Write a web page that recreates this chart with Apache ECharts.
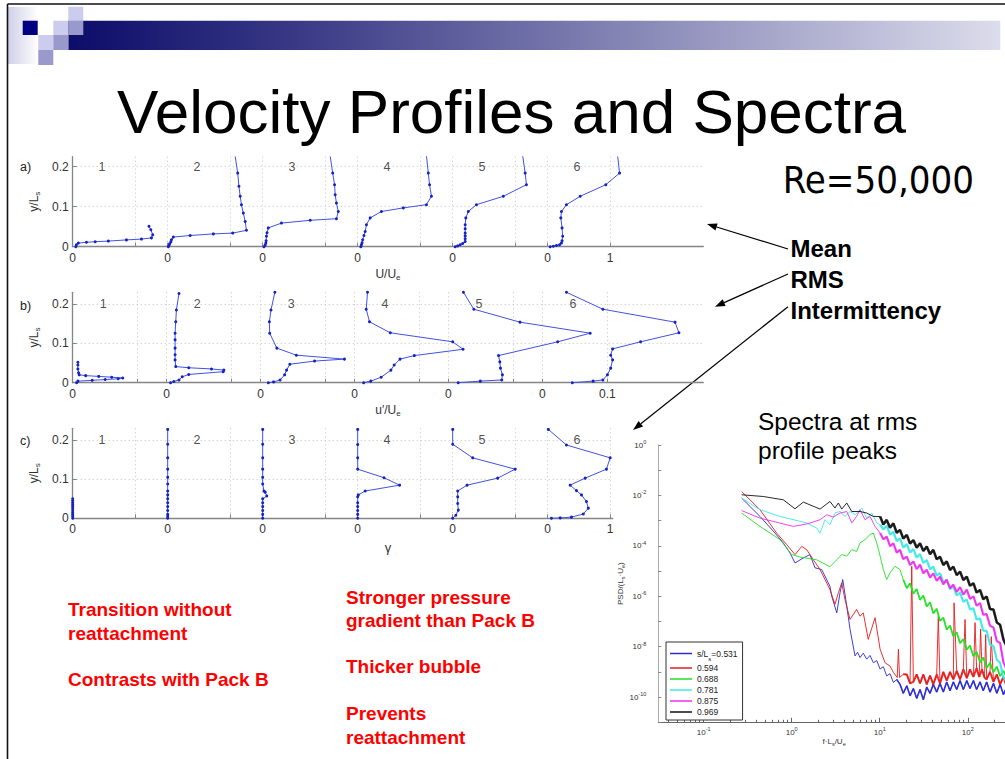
<!DOCTYPE html>
<html><head><meta charset="utf-8">
<script src="https://cdn.jsdelivr.net/npm/echarts@6/dist/echarts.min.js"></script>
<style>html,body{margin:0;padding:0;background:#fff}#c{width:1005px;height:759px}</style>
</head><body><div id="c"></div>
<script>
// ---------------- DATA ----------------
const profileNames = ['1','2','3','4','5','6'];
const yTickValues = [0, 0.1, 0.2];
const meanTickLabels = ['0','1'];
const rmsTickLabels = ['0','0.1'];
const gammaTickLabels = ['0','1'];

// Mean U/Ue profiles: [U/Ue, y/Ls]
const meanProfile1 = [[0.05,0],[0.06,0.005],[0.09,0.009],[0.22,0.011],[0.36,0.0125],[0.57,0.014],[0.86,0.017],[1.10,0.019],[1.26,0.022],[1.28,0.03],[1.25,0.0425],[1.22,0.051]];
const meanProfile2 = [[0.01,0],[0.02,0.003],[0.03,0.007],[0.05,0.012],[0.06,0.0175],[0.09,0.024],[0.36,0.028],[0.73,0.032],[1.04,0.034],[1.26,0.041],[1.24,0.063],[1.21,0.084],[1.18,0.105],[1.16,0.126],[1.14,0.151],[1.12,0.184],[1.08,0.226]];
const meanProfile3 = [[0.02,0],[0.04,0.004],[0.05,0.009],[0.055,0.015],[0.06,0.026],[0.07,0.035],[0.09,0.047],[0.30,0.059],[0.76,0.066],[1.18,0.07],[1.21,0.088],[1.18,0.109],[1.16,0.13],[1.15,0.155],[1.12,0.184],[1.08,0.226]];
const meanProfile4 = [[0.05,0],[0.06,0.005],[0.07,0.01],[0.08,0.0175],[0.10,0.028],[0.12,0.038],[0.14,0.055],[0.20,0.072],[0.38,0.088],[0.73,0.097],[1.10,0.105],[1.18,0.126],[1.15,0.155],[1.13,0.184],[1.10,0.2275]];
const meanProfile5 = [[0.04,0],[0.08,0.002],[0.12,0.005],[0.16,0.008],[0.20,0.013],[0.20,0.02],[0.20,0.027],[0.20,0.034],[0.20,0.045],[0.20,0.055],[0.21,0.072],[0.25,0.088],[0.38,0.105],[0.81,0.126],[1.18,0.155],[1.16,0.184],[1.12,0.2275]];
const meanProfile6 = [[0.04,0],[0.09,0.001],[0.14,0.003],[0.19,0.005],[0.22,0.009],[0.23,0.015],[0.24,0.026],[0.23,0.047],[0.21,0.072],[0.22,0.088],[0.30,0.105],[0.52,0.126],[0.93,0.155],[1.15,0.184],[1.12,0.226]];

// RMS u'/Ue profiles: [u'/Ue, y/Ls]
const rmsProfile1 = [[0.006,0],[0.008,0.004],[0.03,0.006],[0.05,0.008],[0.07,0.010],[0.077,0.012],[0.06,0.014],[0.04,0.016],[0.02,0.018],[0.01,0.020],[0.009,0.025],[0.008,0.035],[0.008,0.045],[0.008,0.052]];
const rmsProfile2 = [[0.006,0],[0.011,0.003],[0.019,0.007],[0.024,0.015],[0.034,0.021],[0.087,0.028],[0.088,0.032],[0.069,0.035],[0.034,0.038],[0.014,0.041],[0.013,0.058],[0.013,0.071],[0.013,0.088],[0.013,0.109],[0.013,0.126],[0.014,0.155],[0.015,0.185],[0.019,0.227]];
const rmsProfile3 = [[0.012,0],[0.020,0.002],[0.030,0.007],[0.037,0.02],[0.040,0.032],[0.045,0.047],[0.083,0.055],[0.129,0.06],[0.055,0.070],[0.025,0.088],[0.014,0.126],[0.0135,0.155],[0.016,0.185],[0.022,0.23]];
const rmsProfile4 = [[0.014,0],[0.025,0.004],[0.041,0.014],[0.056,0.032],[0.061,0.045],[0.070,0.060],[0.092,0.069],[0.167,0.085],[0.151,0.104],[0.055,0.127],[0.023,0.155],[0.018,0.187],[0.020,0.23]];
const rmsProfile5 = [[0.015,0],[0.049,0.004],[0.082,0.007],[0.083,0.02],[0.080,0.037],[0.079,0.053],[0.077,0.069],[0.168,0.104],[0.218,0.126],[0.110,0.154],[0.039,0.187],[0.023,0.23]];
const rmsProfile6 = [[0.046,0],[0.078,0.004],[0.093,0.007],[0.100,0.02],[0.105,0.037],[0.108,0.058],[0.105,0.07],[0.108,0.086],[0.151,0.104],[0.210,0.127],[0.204,0.154],[0.093,0.187],[0.037,0.23]];

// Intermittency gamma profiles: [gamma, y/Ls]
const gammaProfile1 = [[0,0],[0,0.005],[0,0.01],[0,0.015],[0,0.02],[0,0.025],[0,0.03],[0,0.035],[0,0.04],[0,0.045],[0,0.05]];
const gammaProfile2 = [[0,0],[0,0.005],[0,0.01],[0,0.02],[0,0.03],[0,0.04],[0,0.05],[0,0.06],[0,0.07],[0,0.088],[0,0.105],[0,0.126],[0,0.155],[0,0.19],[0,0.228]];
const gammaProfile3 = [[0,0],[0,0.01],[0,0.02],[0,0.03],[0,0.04],[0,0.05],[0.065,0.057],[0.04,0.067],[0.02,0.07],[0,0.088],[0,0.105],[0,0.126],[0,0.155],[0,0.19],[0,0.228]];
const gammaProfile4 = [[0,0],[0,0.01],[0,0.02],[0,0.03],[0,0.04],[0,0.055],[0.01,0.06],[0.12,0.07],[0.67,0.085],[0.42,0.104],[0,0.126],[0,0.155],[0,0.189],[0,0.228]];
const gammaProfile5 = [[0,0],[0.05,0.008],[0.09,0.021],[0.08,0.038],[0.08,0.055],[0.08,0.07],[0.23,0.085],[0.72,0.103],[1.0,0.126],[0.32,0.155],[0,0.19],[0,0.228]];
const gammaProfile6 = [[0.06,0],[0.2,0.001],[0.38,0.003],[0.57,0.011],[0.65,0.026],[0.62,0.043],[0.54,0.06],[0.46,0.071],[0.36,0.085],[0.60,0.103],[0.94,0.126],[1.0,0.155],[0.30,0.188],[0.01,0.228]];

// Spectra: [f*Ls/Ue, PSD/(Ls*Ue)]
const spectraNames = ['0.531','0.594','0.688','0.781','0.875','0.969'];
const spec0531 = [[0.27,7.8e-3],[0.436,1.47e-3],[0.646,3.2e-4],[0.803,1.3e-4],[0.957,5.2e-5],[1.09,2.1e-5],[1.355,3.3e-5],[1.61,4.5e-5],[1.84,1.34e-5],[2.19,1.15e-5],[2.72,2.5e-6],[2.85,1.0e-6],[3.25,2.2e-7],[3.54,1.38e-6],[3.8,4.6e-6],[4.22,4.1e-7],[4.6,4.9e-8],[5.24,4.3e-9],[5.6,6e-9],[5.97,3.7e-9],[6.5,5.5e-9],[7.11,3.2e-9],[7.76,4.5e-9],[8.46,2.3e-9],[9.25,2.8e-9],[10.1,1.3e-9],[11.0,1.6e-9],[12.0,6.9e-10],[13.1,8.5e-10],[14.3,3.8e-10],[15.6,5e-10],[17.0,3.2e-10],[18.5,1.41e-10],[20.3,2.8e-10],[22.1,1.12e-10],[24.1,2.2e-10],[26.3,8.9e-11],[28.7,2.0e-10],[31.3,7.9e-11],[34.2,2.5e-10],[37.3,1.41e-10],[40.6,3.2e-10],[44.4,1.58e-10],[48.4,3.5e-10],[52.8,1.58e-10],[57.7,4e-10],[62.9,1.78e-10],[68.6,4e-10],[74.9,2.0e-10],[81.8,4.5e-10],[89.1,2.0e-10],[97.5,4.5e-10],[106,2.2e-10],[116,4.5e-10],[126,2.0e-10],[138,4e-10],[150,1.78e-10],[164,4e-10],[179,1.58e-10],[196,3.5e-10],[214,1.41e-10],[233,3.2e-10],[254,1.26e-10],[277,2.5e-10]];
const spec0594 = [[0.27,1.42e-2],[0.436,2.7e-3],[0.675,3.2e-4],[0.877,1.12e-4],[1.09,4.5e-5],[1.30,9.5e-5],[1.48,7.1e-5],[1.76,2.8e-5],[2.10,1.15e-5],[2.39,4.6e-6],[2.72,1.86e-6],[3.10,4.8e-7],[3.39,1.38e-6],[3.70,3.4e-6],[4.03,7.4e-7],[4.6,1.2e-7],[5.47,3.0e-7],[5.97,1.62e-7],[6.5,2.2e-7],[7.4,1.95e-8],[8.85,1.41e-7],[10.1,7.9e-9],[11.5,2.3e-9],[13.1,1.7e-9],[14.3,9.5e-10],[15.8,6e-10],[16.3,7.9e-9],[16.8,6e-10],[18.5,8e-10],[20.3,7.9e-10],[22.1,3.5e-10],[23.1,1.55e-5],[24.1,4e-10],[26.3,7.9e-10],[28.7,3.5e-10],[31.3,7.9e-10],[34.2,3.2e-10],[37.3,7.1e-10],[40.6,3.2e-10],[44.4,7.9e-10],[46.3,1.6e-7],[48.4,3.5e-10],[52.8,1.0e-9],[57.7,4.5e-10],[62.9,1.0e-9],[68.6,5e-10],[69.9,5.5e-7],[74.9,1.1e-9],[81.8,5e-10],[89.1,1.26e-9],[93.2,1.2e-7],[97.5,5.6e-10],[106,1.26e-9],[116,6.3e-10],[121,9e-8],[126,1.41e-9],[135,6.3e-10],[140,5e-8],[145,1.26e-9],[155,6e-10],[160,3e-8],[164,5e-10],[179,1.0e-9],[185,2.5e-8],[196,4e-10],[214,7.9e-10],[233,3.2e-10],[254,6.3e-10],[277,2.5e-10]];
const spec0688 = [[0.27,2.0e-3],[0.436,5.9e-4],[0.736,1.77e-4],[1.0,4.5e-5],[1.24,3.6e-5],[1.92,2.8e-5],[2.72,1.48e-5],[3.25,2.8e-5],[3.7,4.5e-5],[4.22,3.9e-5],[4.81,7.1e-5],[5.47,6.0e-5],[5.97,1.3e-4],[6.8,1.77e-4],[7.76,2.8e-4],[8.46,3.2e-4],[9.25,1.3e-4],[10.1,3.9e-5],[11.0,1.15e-5],[12.0,4.6e-6],[13.1,8.5e-6],[14.9,1.55e-5],[17.0,1.15e-5],[18.5,4.6e-6],[20.3,2.1e-6],[22.1,3.3e-6],[24.1,1.26e-6],[26.3,1.95e-6],[28.7,7.2e-7],[31.3,1.07e-6],[34.2,3.9e-7],[37.3,5.8e-7],[40.6,2.1e-7],[44.4,3.2e-7],[48.4,1.05e-7],[52.8,1.41e-7],[57.7,4.7e-8],[62.9,6.9e-8],[68.6,2.6e-8],[74.9,3.7e-8],[81.8,1.38e-8],[89.1,2.0e-8],[97.5,7.6e-9],[106,1.12e-8],[116,4.2e-9],[126,6.3e-9],[138,2.4e-9],[150,3.7e-9],[164,1.41e-9],[179,2.3e-9],[196,9.8e-10],[214,1.62e-9],[233,6.8e-10],[254,1.1e-9],[277,6.3e-10]];
const spec0781 = [[0.27,7.8e-3],[0.436,2.7e-3],[0.736,1.47e-3],[1.48,8.1e-4],[1.92,5.1e-4],[2.10,3.2e-4],[2.39,1.09e-3],[2.72,6.9e-4],[3.10,2.0e-3],[3.54,2.3e-3],[4.03,1.47e-3],[4.6,2.3e-3],[5.24,1.7e-3],[6.24,3.16e-3],[7.11,1.26e-3],[8.11,2.0e-3],[9.25,8.1e-4],[10.1,6.9e-4],[11.0,4.5e-4],[12.0,6.2e-4],[13.1,2.8e-4],[14.3,3.6e-4],[15.6,1.55e-4],[17.0,2.0e-4],[18.5,8.5e-5],[20.3,1.17e-4],[22.1,5.4e-5],[24.1,7.4e-5],[26.3,3.4e-5],[28.7,4.7e-5],[31.3,2.1e-5],[34.2,2.75e-5],[37.3,1.17e-5],[40.6,1.51e-5],[44.4,6.5e-6],[48.4,8.3e-6],[52.8,3.5e-6],[57.7,4.5e-6],[62.9,1.9e-6],[68.6,2.5e-6],[74.9,1.07e-6],[81.8,1.38e-6],[89.1,6.0e-7],[97.5,7.4e-7],[106,3.0e-7],[116,3.3e-7],[126,1.2e-7],[138,1.32e-7],[150,4.3e-8],[164,4.2e-8],[179,1.2e-8],[196,1.05e-8],[214,3.0e-9],[233,2.3e-9],[254,6.0e-10],[277,4.0e-10]];
const spec0875 = [[0.27,2.5e-3],[0.436,1.26e-3],[0.618,9.3e-4],[1.04,5.9e-4],[1.54,7.6e-4],[2.10,1.09e-3],[2.50,1.7e-3],[2.97,1.38e-3],[3.54,2.0e-3],[4.22,2.3e-3],[4.81,8.1e-4],[5.47,1.47e-3],[5.97,2.7e-3],[6.8,1.09e-3],[7.76,1.47e-3],[8.85,5.9e-4],[10.1,3.2e-4],[11.0,1.82e-4],[12.0,2.34e-4],[13.1,9.8e-5],[14.3,1.26e-4],[15.6,5.4e-5],[17.0,6.9e-5],[18.5,2.95e-5],[20.3,3.7e-5],[22.1,1.74e-5],[24.1,2.4e-5],[26.3,1.2e-5],[28.7,1.78e-5],[31.3,8.1e-6],[34.2,1.12e-5],[37.3,5.5e-6],[40.6,8.1e-6],[44.4,4.1e-6],[48.4,6.0e-6],[52.8,3.0e-6],[57.7,4.5e-6],[62.9,2.1e-6],[68.6,2.9e-6],[74.9,1.48e-6],[81.8,2.3e-6],[89.1,1.17e-6],[97.5,1.82e-6],[106,7.8e-7],[116,1.0e-6],[126,4.2e-7],[138,5.4e-7],[150,1.86e-7],[164,1.95e-7],[179,6.8e-8],[196,5.8e-8],[214,1.66e-8],[233,1.41e-8],[254,2.4e-9],[277,1.26e-9]];
const spec0969 = [[0.27,1.06e-2],[0.475,9.06e-3],[0.803,6.7e-3],[1.09,2.95e-3],[1.355,5.43e-3],[2.10,2.87e-3],[2.72,5.75e-3],[3.10,3.16e-3],[3.39,5.0e-3],[3.70,2.87e-3],[4.22,5.0e-3],[4.81,2.3e-3],[5.97,2.3e-3],[7.11,2.0e-3],[8.46,1.47e-3],[10.1,1.45e-3],[11.0,7.1e-4],[12.0,1.07e-3],[13.1,5.2e-4],[14.3,7.8e-4],[15.6,3.3e-4],[17.0,4.3e-4],[18.5,1.95e-4],[20.3,2.7e-4],[22.1,1.23e-4],[24.1,1.7e-4],[26.3,8.5e-5],[28.7,1.26e-4],[31.3,6.2e-5],[34.2,9.3e-5],[37.3,4.7e-5],[40.6,6.9e-5],[44.4,2.95e-5],[48.4,3.7e-5],[52.8,1.74e-5],[57.7,2.4e-5],[62.9,1.1e-5],[68.6,1.5e-5],[74.9,6.9e-6],[81.8,9.5e-6],[89.1,4.4e-6],[97.5,6.0e-6],[106,2.6e-6],[116,3.3e-6],[126,1.41e-6],[138,1.78e-6],[150,7.6e-7],[164,9.8e-7],[179,3.1e-7],[196,2.95e-7],[214,9.1e-8],[233,7.4e-8],[254,1.95e-8],[277,1.0e-8],[302,3.2e-9]];
// frequency above which (and PSD below which) each spectrum forms a dense noisy band
const spectraBandFrom = [15, 17, 18, 10, 10, 10];
const spectraBandBelow = [1, 2e-9, 1, 1, 1, 1];

const specXMajor = [0.1, 1, 10, 100];
const specXMinor = [0.04,0.05,0.06,0.07,0.08,0.09,0.2,0.3,0.4,0.5,0.6,0.7,0.8,0.9,2,3,4,5,6,7,8,9,20,30,40,50,60,70,80,90,200,300];
const specYTicks = [1e-11,1e-10,1e-9,1e-8,1e-7,1e-6,1e-5,1e-4,1e-3,1e-2,1e-1,1];
const specYLabels = [1e-10,1e-8,1e-6,1e-4,1e-2,1];

// ---------------- CHART ----------------
const FONT = "'Liberation Sans', Arial, Helvetica, sans-serif";
const chart = echarts.init(document.getElementById('c'), null, {renderer: 'svg', width: 1005, height: 759});

const rows = [
  {profiles:[meanProfile1,meanProfile2,meanProfile3,meanProfile4,meanProfile5,meanProfile6], step:1.52, maxTick:1, tickLabels:meanTickLabels,
   grid:{left:72.7, top:156.7, width:630.6, height:90}, xMax:10.09, yMax:0.225, numDx:0.47, name:'{n|U/U}{s|e}'},
  {profiles:[rmsProfile1,rmsProfile2,rmsProfile3,rmsProfile4,rmsProfile5,rmsProfile6], step:0.1445, maxTick:0.1, tickLabels:rmsTickLabels,
   grid:{left:72.7, top:292.3, width:630.6, height:90.4}, xMax:0.970, yMax:0.23, numDx:0.047, name:'{n|u′/U}{s|e}'},
  {profiles:[gammaProfile1,gammaProfile2,gammaProfile3,gammaProfile4,gammaProfile5,gammaProfile6], step:1.52, maxTick:1, tickLabels:gammaTickLabels,
   grid:{left:72.7, top:428.3, width:540, height:90}, xMax:8.64, yMax:0.2308, numDx:0.47, name:''}
];

const grids = [], xAxes = [], yAxes = [], series = [];
const gridLineStyle = {color:'#c4c4c4', type:[1,3], width:1};
const axisColor = '#858585';
const subRich = {n:{fontSize:12, fontFamily:FONT, color:'#333', lineHeight:15}, s:{fontSize:8, fontFamily:FONT, color:'#333', lineHeight:8, verticalAlign:'bottom'}};

rows.forEach((r, i) => {
  grids.push(Object.assign({outerBoundsMode:'none', containLabel:false}, r.grid));
  const offs = profileNames.map((_, k) => +(k * r.step).toFixed(6));
  const tickVals = [];
  offs.forEach(o => { tickVals.push(o, +(o + r.maxTick).toFixed(6)); });
  const labelVals = offs.concat([+(offs[5] + r.maxTick).toFixed(6)]);
  xAxes.push({
    type:'value', gridIndex:i, min:0, max:r.xMax,
    axisLine:{show:true, onZero:false, lineStyle:{color:axisColor, width:1.3}},
    axisTick:{show:true, inside:true, length:4, customValues:tickVals, lineStyle:{color:axisColor}},
    axisLabel:{customValues:labelVals, margin:5, fontSize:12, fontFamily:FONT, color:'#333',
      formatter: v => offs.some(o => Math.abs(o - v) < 1e-6) ? r.tickLabels[0] : r.tickLabels[1]},
    splitLine:{show:true, lineStyle:gridLineStyle},
    name:r.name, nameLocation:'middle', nameGap:20, nameTextStyle:{rich:subRich}
  });
  yAxes.push({
    type:'value', gridIndex:i, min:0, max:r.yMax,
    axisLine:{show:true, lineStyle:{color:axisColor, width:1.3}},
    axisTick:{show:true, inside:true, length:4, customValues:yTickValues, lineStyle:{color:axisColor}},
    axisLabel:{customValues:yTickValues, margin:4, fontSize:12, fontFamily:FONT, color:'#333', formatter: v => String(v)},
    splitLine:{show:true, lineStyle:gridLineStyle},
    name:'{n|y/L}{s|s}', nameLocation:'middle', nameGap:30, nameTextStyle:{rich:subRich}
  });
  r.profiles.forEach((p, k) => {
    series.push({
      type:'line', xAxisIndex:i, yAxisIndex:i, silent:true, animation:false,
      data:p.map(d => [offs[k] + d[0], d[1]]),
      lineStyle:{color:'#4252e0', width:1}, symbol:'circle', symbolSize:3,
      itemStyle:{color:'#1422c4'}, showSymbol:true, z:3
    });
  });
  series.push({
    type:'scatter', xAxisIndex:i, yAxisIndex:i, silent:true, symbolSize:0, animation:false,
    data:profileNames.map((n, k) => ({name:n, value:[offs[k] + r.numDx, 0.2]})),
    label:{show:true, position:'inside', formatter:'{b}', fontSize:12.5, fontFamily:FONT, color:'#222'}, z:4
  });
});

// Spectra grid
grids.push({left:658.3, top:445, width:351.7, height:277.3, outerBoundsMode:'none', containLabel:false});
const supRich = {b:{fontSize:8, fontFamily:FONT, color:'#333', lineHeight:12}, s:{fontSize:5.5, fontFamily:FONT, color:'#333', lineHeight:6, verticalAlign:'top'}};
const powLabel = v => { const e = Math.round(Math.log10(v)); return '{b|10}{s|' + e + '}'; };
xAxes.push({
  type:'log', gridIndex:3, min:0.0305, max:302, logBase:10,
  axisLine:{show:true, onZero:false, lineStyle:{color:'#666', width:1}},
  axisTick:{show:true, inside:true, length:4.5, customValues:specXMajor, lineStyle:{color:'#666'}},
  axisLabel:{customValues:specXMajor, margin:4, formatter:powLabel, rich:supRich},
  splitLine:{show:false}, minorTick:{show:false},
  name:'{b|f·L}{s|s}{b|/U}{s|e}', nameLocation:'middle', nameGap:14,
  nameTextStyle:{rich:{b:{fontSize:8, fontFamily:FONT, color:'#333', lineHeight:11}, s:{fontSize:5.5, fontFamily:FONT, color:'#333', lineHeight:6, verticalAlign:'bottom'}}}
});
xAxes.push({
  type:'log', gridIndex:3, min:0.0305, max:302, logBase:10, position:'bottom',
  axisLine:{show:false}, axisLabel:{show:false}, splitLine:{show:false},
  axisTick:{show:true, inside:true, length:2.5, customValues:specXMinor, lineStyle:{color:'#666'}}
});
yAxes.push({
  type:'log', gridIndex:3, min:1e-11, max:1, logBase:10,
  axisLine:{show:true, onZero:false, lineStyle:{color:'#aaa', width:1}},
  axisTick:{show:true, inside:true, length:3, customValues:specYTicks, lineStyle:{color:'#888'}},
  axisLabel:{customValues:specYLabels, margin:12, formatter:powLabel, rich:supRich},
  splitLine:{show:false},
  name:'{b|PSD/(L}{s|s}{b|·U}{s|e}{b|)}', nameLocation:'middle', nameGap:29,
  nameTextStyle:{rich:{b:{fontSize:8, fontFamily:FONT, color:'#333', lineHeight:11}, s:{fontSize:5.5, fontFamily:FONT, color:'#333', lineHeight:6, verticalAlign:'bottom'}}}
});
const specColors = ['#2a2ad6','#e41c1c','#22e022','#3ee8e8','#ee30ee','#111111'];
const bandWidths = [1.6, 2.0, 1.8, 2.2, 2.2, 2.6];
[spec0531, spec0594, spec0688, spec0781, spec0875, spec0969].forEach((s, k) => {
  series.push({
    name:spectraNames[k], type:'line', xAxisIndex:3, yAxisIndex:3, data:s, symbol:'none', silent:true, animation:false,
    lineStyle:{color:specColors[k], width:0.9}, itemStyle:{color:specColors[k]}, clip:true, z:2
  });
  // noisy high-frequency band drawn thicker (subset of the same values, same legend entry)
  const band = s.filter(d => d[0] >= spectraBandFrom[k] && d[1] <= spectraBandBelow[k]);
  if (band.length > 1) series.push({
    name:spectraNames[k], type:'line', xAxisIndex:3, yAxisIndex:3, data:band, symbol:'none', silent:true, animation:false,
    lineStyle:{color:specColors[k], width:bandWidths[k], opacity:0.9}, itemStyle:{color:specColors[k]}, clip:true, z:2
  });
});

// ---------- slide decorations ----------
const G = echarts.graphic;
function arrow(x1, y1, x2, y2) {
  const dx = x2 - x1, dy = y2 - y1, len = Math.hypot(dx, dy), ux = dx / len, uy = dy / len;
  const L = 10, W = 3.6, bx = x2 - ux * L, by = y2 - uy * L;
  return [
    {type:'line', shape:{x1:x1, y1:y1, x2:bx, y2:by}, style:{stroke:'#000', lineWidth:1.2}},
    {type:'polygon', shape:{points:[[x2,y2],[bx - uy*W, by + ux*W],[bx + uy*W, by - ux*W]]}, style:{fill:'#000'}}
  ];
}
const txt = (text, x, y, size, opts) => Object.assign({type:'text', style:Object.assign({text:text, x:x, y:y, fontSize:size, fontFamily:FONT, fill:'#000', textVerticalAlign:'middle', textAlign:'left'}, opts || {})});
const redBold = {fill:'#ff0000', fontWeight:'bold'};
const graphics = [
  {type:'rect', shape:{x:8, y:7, width:30, height:57}, style:{fill:new G.LinearGradient(0,0,1,0,[{offset:0,color:'#cfcfe8'},{offset:1,color:'#ffffff'}])}},
  {type:'rect', shape:{x:68.3, y:20.7, width:932, height:29.3}, style:{fill:new G.LinearGradient(0,0,1,0,[{offset:0,color:'#0c0c6a'},{offset:0.25,color:'#3a3a86'},{offset:1,color:'#dcdcec'}])}},
  {type:'rect', shape:{x:22.7, y:20.7, width:15, height:14.3}, style:{fill:'#000080'}},
  {type:'rect', shape:{x:68.3, y:6.7, width:15, height:14}, style:{fill:'#ccccee'}},
  {type:'rect', shape:{x:53.3, y:20.7, width:15, height:14.3}, style:{fill:'#ccccee'}},
  {type:'rect', shape:{x:68.3, y:20.7, width:15, height:14.3}, style:{fill:'#9999cc'}},
  {type:'rect', shape:{x:38.3, y:35, width:15, height:15}, style:{fill:'#ccccee'}},
  {type:'rect', shape:{x:53.3, y:35, width:15, height:15}, style:{fill:'#9999cc'}},
  {type:'rect', shape:{x:38.3, y:50, width:15, height:15}, style:{fill:'#9999cc'}},
  {type:'line', shape:{x1:7.5, y1:4, x2:1005, y2:4}, style:{stroke:'#111', lineWidth:1.6}},
  {type:'line', shape:{x1:7.5, y1:4, x2:7.5, y2:759}, style:{stroke:'#111', lineWidth:1.6}},
  txt('Velocity Profiles and Spectra', 511.5, 111.5, 62, {textAlign:'center'}),
  txt('Re=50,000', 782.7, 180, 38, {fontFamily:"'DejaVu Sans Condensed','DejaVu Sans',sans-serif", fontStretch:'condensed'}),
  txt('Mean', 790.5, 248.5, 24, {fontWeight:'bold'}),
  txt('RMS', 790.5, 279.5, 24, {fontWeight:'bold'}),
  txt('Intermittency', 790.5, 310, 24, {fontWeight:'bold'}),
  txt('Spectra at rms', 758, 421, 24.5),
  txt('profile peaks', 758, 450, 24.5),
  txt('a)', 20, 166.7, 12.5, {fill:'#222'}),
  txt('b)', 20, 305.5, 12.5, {fill:'#222'}),
  txt('c)', 20, 440.5, 12.5, {fill:'#222'}),
  txt('γ', 388, 547, 13, {fill:'#333', textAlign:'center'}),
  txt('Transition without', 68, 609, 19, redBold),
  txt('reattachment', 68, 633, 19, redBold),
  txt('Contrasts with Pack B', 68, 679, 19, redBold),
  txt('Stronger pressure', 346, 597, 19, redBold),
  txt('gradient than Pack B', 346, 620, 19, redBold),
  txt('Thicker bubble', 346, 666, 19, redBold),
  txt('Prevents', 346, 713, 19, redBold),
  txt('reattachment', 346, 737, 19, redBold)
].concat(arrow(788, 249, 707, 224), arrow(788, 274, 715, 306.7), arrow(788, 306.7, 633, 430));

chart.setOption({
  backgroundColor:'#ffffff',
  animation:false,
  grid:grids, xAxis:xAxes, yAxis:yAxes, series:series,
  legend:{
    data:spectraNames, orient:'vertical', left:666, top:642, selectedMode:false,
    icon:'rect', itemWidth:22, itemHeight:1.5, itemGap:1,
    padding:[3,5,3,4], borderColor:'#333', borderWidth:1, backgroundColor:'#fff',
    textStyle:{fontSize:8.5, fontFamily:FONT, color:'#222', lineHeight:10,
      rich:{f:{fontSize:8.5, fontFamily:FONT, color:'#222', lineHeight:17}, fs:{fontSize:6, fontFamily:FONT, color:'#222', lineHeight:12, verticalAlign:'bottom'}}},
    formatter: n => n === spectraNames[0] ? '{f|s/L}{fs|s}{f|=' + n + '}' : n
  },
  graphic:{elements:graphics}
});
</script>
</body></html>
